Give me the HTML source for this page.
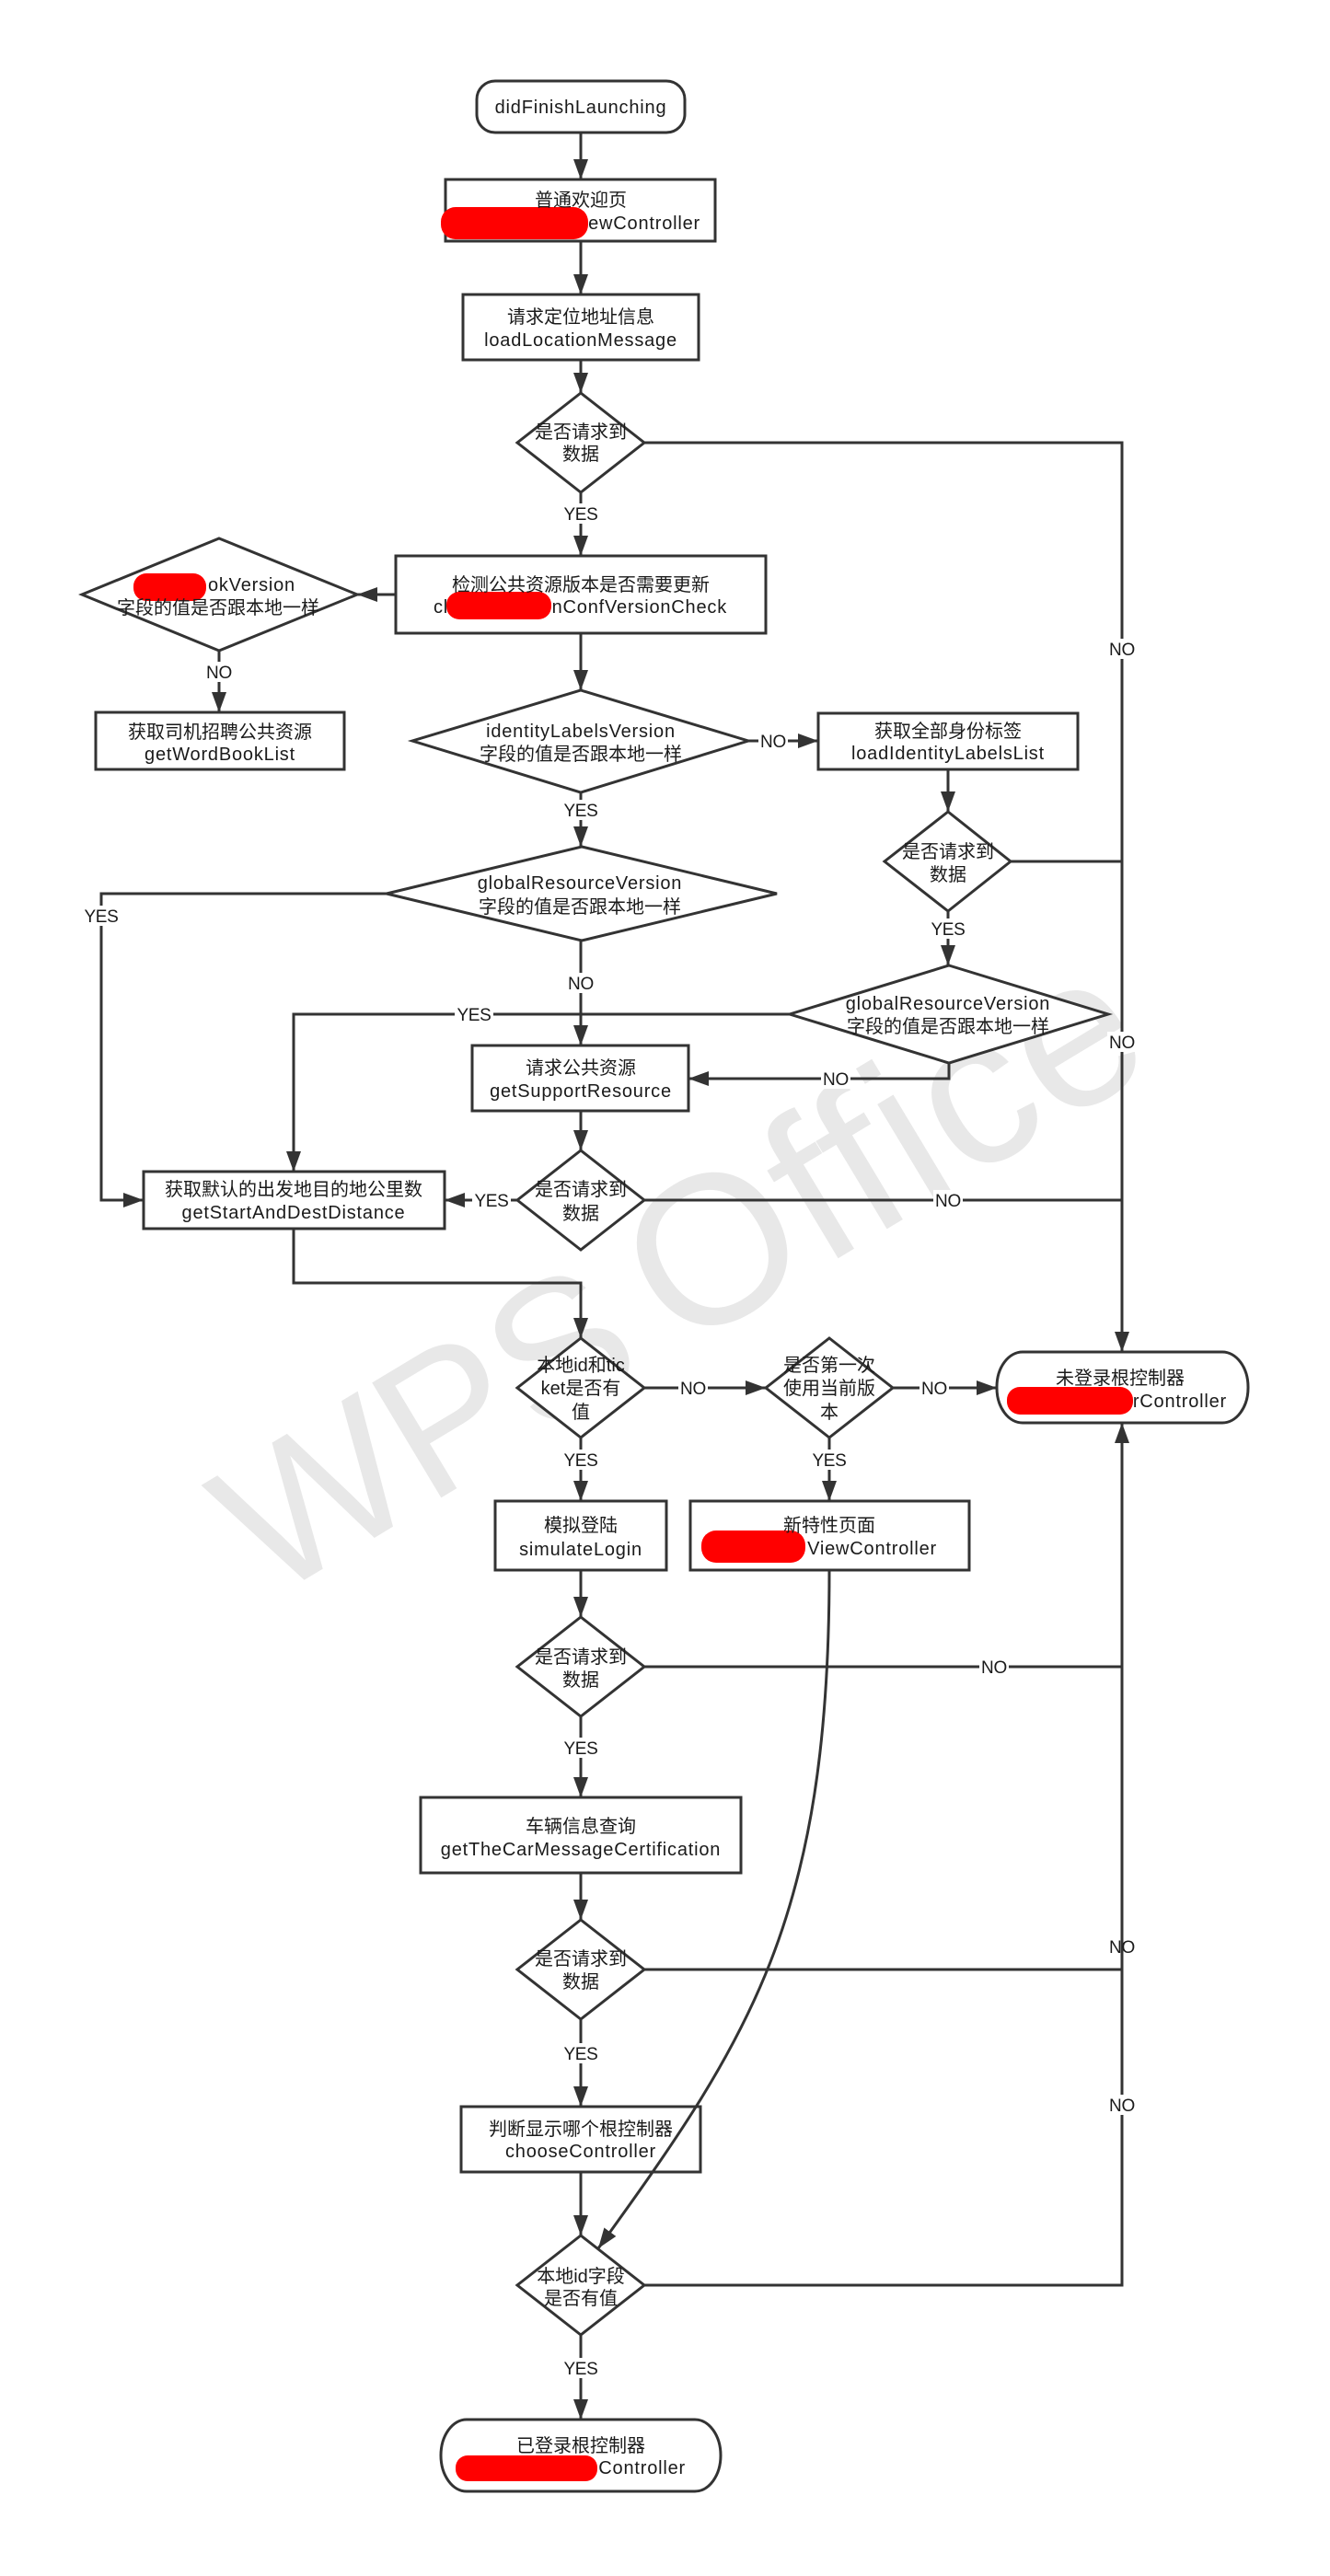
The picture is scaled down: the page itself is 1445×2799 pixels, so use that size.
<!DOCTYPE html>
<html><head><meta charset="utf-8">
<style>
html,body{margin:0;padding:0;background:#fff;}
svg{display:block;}
text{font-family:"Liberation Sans","Noto Sans CJK SC",sans-serif;font-size:20px;fill:#1a1a1a;}
.l{letter-spacing:0.8px;}
.lb{font-size:19px;letter-spacing:-0.3px;}
.wm{font-size:230px;fill:#e8e8e8;}
</style></head>
<body>
<svg width="1445" height="2799" viewBox="0 0 1445 2799" xmlns="http://www.w3.org/2000/svg">
<defs>
<marker id="ah" markerUnits="userSpaceOnUse" markerWidth="24" markerHeight="18" refX="22" refY="8" orient="auto">
<path d="M0,0 L22,8 L0,16 Z" fill="#333"/>
</marker>
</defs>
<rect width="1445" height="2799" fill="#fff"/>

<!-- watermark -->
<text class="wm" x="462" y="1552" text-anchor="middle" dominant-baseline="central" font-size="212" style="font-size:212px" transform="rotate(-31 462 1552)">WPS</text>
<text class="wm" x="958" y="1246" text-anchor="middle" dominant-baseline="central" letter-spacing="2" transform="rotate(-31 958 1246)">Office</text>

<!-- connectors -->
<g stroke="#333" stroke-width="3" fill="none">
<path d="M631,144 V195" marker-end="url(#ah)"/>
<path d="M631,262 V320" marker-end="url(#ah)"/>
<path d="M631,391 V427" marker-end="url(#ah)"/>
<path d="M631,535 V604" marker-end="url(#ah)"/>
<path d="M430,646 H388" marker-end="url(#ah)"/>
<path d="M238,707 V774" marker-end="url(#ah)"/>
<path d="M631,688 V750" marker-end="url(#ah)"/>
<path d="M813,805 H889" marker-end="url(#ah)"/>
<path d="M631,861 V920" marker-end="url(#ah)"/>
<path d="M1030,836 V882" marker-end="url(#ah)"/>
<path d="M1030,990 V1049" marker-end="url(#ah)"/>
<path d="M1098,936 H1219"/>
<path d="M631,1022 V1136" marker-end="url(#ah)"/>
<path d="M420,971 H110 V1304 H156" marker-end="url(#ah)"/>
<path d="M858,1102 H319 V1273" marker-end="url(#ah)"/>
<path d="M1031,1155 V1172 H748" marker-end="url(#ah)"/>
<path d="M631,1207 V1250" marker-end="url(#ah)"/>
<path d="M562,1304 H483" marker-end="url(#ah)"/>
<path d="M700,1304 H1219"/>
<path d="M319,1335 V1394 H631 V1454" marker-end="url(#ah)"/>
<path d="M700,1508 H832" marker-end="url(#ah)"/>
<path d="M970,1508 H1083" marker-end="url(#ah)"/>
<path d="M631,1562 V1631" marker-end="url(#ah)"/>
<path d="M901,1562 V1631" marker-end="url(#ah)"/>
<path d="M631,1706 V1757" marker-end="url(#ah)"/>
<path d="M700,1811 H1219"/>
<path d="M631,1865 V1953" marker-end="url(#ah)"/>
<path d="M631,2035 V2086" marker-end="url(#ah)"/>
<path d="M700,2140 H1219"/>
<path d="M631,2194 V2289" marker-end="url(#ah)"/>
<path d="M631,2360 V2429" marker-end="url(#ah)"/>
<path d="M700,2483 H1219 V1546" marker-end="url(#ah)"/>
<path d="M631,2537 V2629" marker-end="url(#ah)"/>
<path d="M700,481 H1219 V1469" marker-end="url(#ah)"/>
</g>

<!-- nodes -->
<g stroke="#333" stroke-width="3" fill="#fff">
<rect x="518" y="88" width="226" height="56" rx="20" ry="20"/>
<rect x="484" y="195" width="293" height="67"/>
<rect x="503" y="320" width="256" height="71"/>
<polygon points="631,427 700,481 631,535 562,481"/>
<rect x="430" y="604" width="402" height="84"/>
<polygon points="238,585 388,646 238,707 89,646"/>
<rect x="104" y="774" width="270" height="62"/>
<polygon points="631,750 813,805 631,861 448,805"/>
<rect x="889" y="775" width="282" height="61"/>
<polygon points="1030,882 1098,936 1030,990 961,936"/>
<polygon points="632,920 844,971 632,1022 420,971"/>
<polygon points="1031,1049 1204,1102 1031,1155 858,1102"/>
<rect x="513" y="1136" width="235" height="71"/>
<polygon points="631,1250 700,1304 631,1358 562,1304"/>
<rect x="156" y="1273" width="327" height="62"/>
<polygon points="631,1454 700,1508 631,1562 562,1508"/>
<polygon points="901,1454 970,1508 901,1562 832,1508"/>
<rect x="1083" y="1469" width="273" height="77" rx="28" ry="38"/>
<rect x="538" y="1631" width="186" height="75"/>
<rect x="750" y="1631" width="303" height="75"/>
<polygon points="631,1757 700,1811 631,1865 562,1811"/>
<rect x="457" y="1953" width="348" height="82"/>
<polygon points="631,2086 700,2140 631,2194 562,2140"/>
<rect x="501" y="2289" width="260" height="71"/>
<polygon points="631,2429 700,2483 631,2537 562,2483"/>
<rect x="479" y="2629" width="304" height="78" rx="28" ry="39"/>
</g>

<!-- curved connector drawn over boxes -->
<path d="M901,1706 C901,2086 814,2216 650,2443" stroke="#333" stroke-width="3" fill="none" marker-end="url(#ah)"/>

<!-- redactions -->
<g fill="#f00">
<rect x="479" y="225" width="160" height="35" rx="16"/>
<rect x="145" y="623" width="79" height="30" rx="14"/>
<rect x="485" y="643" width="114" height="30" rx="14"/>
<rect x="762" y="1663" width="113" height="35" rx="16"/>
<rect x="1094" y="1507" width="137" height="30" rx="14"/>
<rect x="495" y="2668" width="154" height="28" rx="13"/>
</g>

<!-- node texts -->
<g text-anchor="middle">
<text class="l" x="631" y="123">didFinishLaunching</text>

<text x="631" y="224">普通欢迎页</text>
<text class="l" x="761" y="249" text-anchor="end">ewController</text>

<text x="631" y="351">请求定位地址信息</text>
<text class="l" x="631" y="376">loadLocationMessage</text>

<text x="631" y="476">是否请求到</text>
<text x="631" y="500">数据</text>

<text x="631" y="642">检测公共资源版本是否需要更新</text>
<text class="l" x="471" y="666" text-anchor="start">cl</text>
<text class="l" x="790" y="666" text-anchor="end">nConfVersionCheck</text>

<text class="l" x="321" y="642" text-anchor="end">okVersion</text>
<text x="237" y="667">字段的值是否跟本地一样</text>

<text x="239" y="802">获取司机招聘公共资源</text>
<text class="l" x="239" y="826">getWordBookList</text>

<text class="l" x="631" y="801">identityLabelsVersion</text>
<text x="631" y="826">字段的值是否跟本地一样</text>

<text x="1030" y="801">获取全部身份标签</text>
<text class="l" x="1030" y="825">loadIdentityLabelsList</text>

<text x="1030" y="932">是否请求到</text>
<text x="1030" y="957">数据</text>

<text class="l" x="630" y="966">globalResourceVersion</text>
<text x="630" y="992">字段的值是否跟本地一样</text>

<text class="l" x="1030" y="1097">globalResourceVersion</text>
<text x="1030" y="1122">字段的值是否跟本地一样</text>

<text x="631" y="1167">请求公共资源</text>
<text class="l" x="631" y="1192">getSupportResource</text>

<text x="631" y="1299">是否请求到</text>
<text x="631" y="1325">数据</text>

<text x="319" y="1299">获取默认的出发地目的地公里数</text>
<text class="l" x="319" y="1324">getStartAndDestDistance</text>

<text x="631" y="1490">本地id和tic</text>
<text x="631" y="1515">ket是否有</text>
<text x="631" y="1541">值</text>

<text x="901" y="1490">是否第一次</text>
<text x="901" y="1515">使用当前版</text>
<text x="901" y="1541">本</text>

<text x="1217" y="1504">未登录根控制器</text>
<text class="l" x="1333" y="1529" text-anchor="end">rController</text>

<text x="631" y="1664">模拟登陆</text>
<text class="l" x="631" y="1690">simulateLogin</text>

<text x="901" y="1664">新特性页面</text>
<text class="l" x="1018" y="1689" text-anchor="end">ViewController</text>

<text x="631" y="1807">是否请求到</text>
<text x="631" y="1832">数据</text>

<text x="631" y="1991">车辆信息查询</text>
<text class="l" x="631" y="2016">getTheCarMessageCertification</text>

<text x="631" y="2135">是否请求到</text>
<text x="631" y="2160">数据</text>

<text x="631" y="2320">判断显示哪个根控制器</text>
<text class="l" x="631" y="2344">chooseController</text>

<text x="631" y="2480">本地id字段</text>
<text x="631" y="2504">是否有值</text>

<text x="631" y="2664">已登录根控制器</text>
<text class="l" x="745" y="2688" text-anchor="end">Controller</text>
</g>

<!-- connector labels -->
<g fill="#fff">
<rect x="610" y="547" width="42" height="22"/>
<rect x="222" y="719" width="32" height="22"/>
<rect x="824" y="794" width="32" height="22"/>
<rect x="610" y="869" width="42" height="22"/>
<rect x="89" y="984" width="42" height="22"/>
<rect x="1009" y="998" width="42" height="22"/>
<rect x="615" y="1057" width="32" height="22"/>
<rect x="494" y="1091" width="42" height="22"/>
<rect x="892" y="1161" width="32" height="22"/>
<rect x="1203" y="694" width="32" height="22"/>
<rect x="1203" y="1121" width="32" height="22"/>
<rect x="513" y="1293" width="42" height="22"/>
<rect x="1014" y="1293" width="32" height="22"/>
<rect x="737" y="1497" width="32" height="22"/>
<rect x="999" y="1497" width="32" height="22"/>
<rect x="610" y="1575" width="42" height="22"/>
<rect x="880" y="1575" width="42" height="22"/>
<rect x="1064" y="1800" width="32" height="22"/>
<rect x="610" y="1888" width="42" height="22"/>
<rect x="610" y="2220" width="42" height="22"/>
<rect x="1203" y="2276" width="32" height="22"/>
<rect x="610" y="2562" width="42" height="22"/>
</g>
<g text-anchor="middle">
<text class="lb" x="631" y="565">YES</text>
<text class="lb" x="238" y="737">NO</text>
<text class="lb" x="840" y="812">NO</text>
<text class="lb" x="631" y="887">YES</text>
<text class="lb" x="110" y="1002">YES</text>
<text class="lb" x="1030" y="1016">YES</text>
<text class="lb" x="631" y="1075">NO</text>
<text class="lb" x="515" y="1109">YES</text>
<text class="lb" x="908" y="1179">NO</text>
<text class="lb" x="1219" y="712">NO</text>
<text class="lb" x="1219" y="1139">NO</text>
<text class="lb" x="534" y="1311">YES</text>
<text class="lb" x="1030" y="1311">NO</text>
<text class="lb" x="753" y="1515">NO</text>
<text class="lb" x="1015" y="1515">NO</text>
<text class="lb" x="631" y="1593">YES</text>
<text class="lb" x="901" y="1593">YES</text>
<text class="lb" x="1080" y="1818">NO</text>
<text class="lb" x="631" y="1906">YES</text>
<text class="lb" x="1219" y="2122">NO</text>
<text class="lb" x="631" y="2238">YES</text>
<text class="lb" x="1219" y="2294">NO</text>
<text class="lb" x="631" y="2580">YES</text>
</g>
</svg>
</body></html>
